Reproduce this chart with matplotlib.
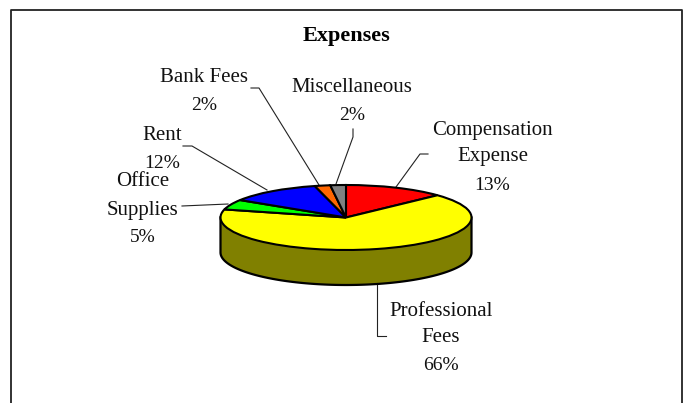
import matplotlib
matplotlib.use('Agg')
import matplotlib.pyplot as plt
import numpy as np

plt.rcParams['font.family'] = ['Liberation Serif', 'DejaVu Serif']

W, H = 689, 403

# pie data, clockwise from the top
names = ['Compensation Expense', 'Professional Fees', 'Office Supplies', 'Rent', 'Bank Fees', 'Miscellaneous']
shares = [13, 66, 5, 12, 2, 2]
colours = ['#ff0000', '#ffff00', '#00ff00', '#0000ff', '#ff6600', '#808080']
side_colour = '#808000'

# label lines: text, centre x, centre y in pixels
label_lines = [
    ('Compensation', 492, 130), ('Expense', 493, 157), ('13%', 492, 185),
    ('Professional', 441, 311), ('Fees', 441, 338), ('66%', 441, 366),
    ('Office', 143, 182), ('Supplies', 143, 210), ('5%', 143, 237),
    ('Rent', 162, 136), ('12%', 162, 163),
    ('Bank Fees', 204, 78), ('2%', 204, 106),
    ('Miscellaneous', 352, 87), ('2%', 352, 115),
]

# leader lines in pixels
leaders = [
    [(396, 187), (420, 154), (428, 154)],
    [(377, 283), (377, 336), (386, 336)],
    [(228, 204), (182, 206)],
    [(267, 190), (192, 146), (183, 146)],
    [(319, 185), (259, 88), (251, 88)],
    [(336, 184), (353, 137), (353, 129)],
]

fig = plt.figure(figsize=(W / 100, H / 100), dpi=100)

# overlay in pixel coordinates for frame, text and leaders
bg = fig.add_axes([0, 0, 1, 1])
bg.set_xlim(0, W)
bg.set_ylim(H, 0)
bg.axis('off')

bg.plot([11, 11, 682, 682], [H, 9.5, 9.5, H], color='#222222', lw=1.3)
for pts in leaders:
    xs, ys = zip(*pts)
    bg.plot(xs, ys, color='#222222', lw=0.8)
for txt, x, y in label_lines:
    size = 14 if txt.endswith('%') else 15
    bg.text(x, y, txt, ha='center', va='center', fontsize=size, color='#111111')
bg.text(346, 36, 'Expenses', ha='center', va='center', fontsize=16, fontweight='bold', color='black')

# pie axes squashed so the circle becomes the flat ellipse
cx, cy, a, b = 346, 217.5, 125.5, 32.5
depth = 35 / b
pie_ax = fig.add_axes([(cx - 1.25 * a) / W, 1 - (cy + 1.25 * b) / H, 2.5 * a / W, 2.5 * b / H])

t = np.linspace(np.pi, 2 * np.pi, 120)
side_x = np.concatenate([np.cos(t), [1, -1]])
side_y = np.concatenate([np.sin(t) - depth, [0, 0]])
pie_ax.fill(side_x, side_y, facecolor=side_colour, edgecolor='black', lw=1.6, clip_on=False)

pie_ax.pie(shares, colors=colours, startangle=90, counterclock=False,
           wedgeprops={'edgecolor': 'black', 'linewidth': 1.5})
pie_ax.set_aspect('auto')
pie_ax.set_xlim(-1.25, 1.25)
pie_ax.set_ylim(-1.25, 1.25)
pie_ax.axis('off')

fig.savefig('out.png', dpi=100)
